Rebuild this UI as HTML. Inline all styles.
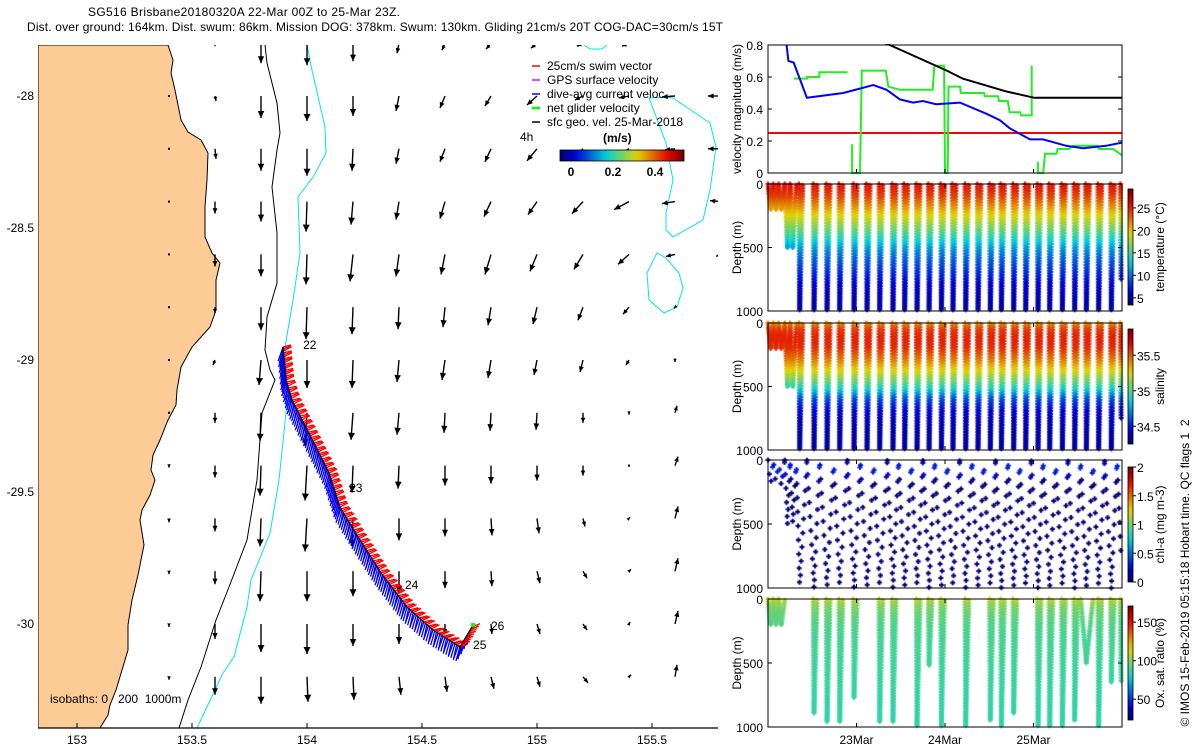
<!DOCTYPE html>
<html><head><meta charset="utf-8">
<style>
html,body{margin:0;padding:0;background:#fff;width:1200px;height:750px;overflow:hidden}
#wrap{position:relative;width:1200px;height:750px}
canvas,svg{position:absolute;left:0;top:0}
text{font-family:"Liberation Sans",sans-serif;fill:#000;white-space:pre}
</style></head>
<body>
<div id="wrap">
<svg id="base" width="1200" height="750"></svg>
<canvas id="scat" width="1200" height="750"></canvas>
<svg id="over" width="1200" height="750"></svg>
</div>
<script>
// ---------- data ----------
const gridLons=[153.4,153.6,153.8,154.0,154.2,154.4,154.6,154.8,155.0,155.2,155.4,155.6,155.8];
const gridLats=[-27.8,-28.0,-28.2,-28.4,-28.6,-28.8,-29.0,-29.2,-29.4,-29.6,-29.8,-30.0,-30.2];
// surface geostrophic velocity east (cm/s) per row
const geoU=[
[0,0,0,0,0,-4,-6,-10,-12,-12,-14,-4,0],
[0,2,0,0,0,-6,-10,-12,-20,-16,-20,-26,-26],
[0,2,0,0,-2,-6,-10,-12,-20,-20,-22,-20,-26],
[0,0,0,-2,-4,-6,-10,-14,-18,-22,-30,-26,-22],
[0,0,0,-2,-6,-6,-8,-12,-14,-18,-22,-18,-10],
[0,0,0,-2,-2,-2,-4,-6,-8,-10,-12,-2,0],
[0,-4,-4,0,-2,-4,-6,-6,-6,-6,-6,0,0],
[0,0,-2,-4,-4,-4,-2,-2,-2,0,0,4,0],
[0,0,-2,-4,-2,-2,0,0,0,0,0,6,0],
[0,0,-2,-4,-2,0,0,2,4,4,2,6,0],
[0,0,-2,0,0,0,0,2,6,8,4,6,0],
[0,0,0,0,0,0,0,2,6,8,2,6,0],
[0,0,0,2,2,4,4,6,6,10,4,4,0]];
// surface geostrophic velocity north (cm/s) per row
const geoV=[
[0,-6,-40,-44,-36,-20,-14,-12,-10,-6,-6,-2,0],
[0,-10,-44,-50,-40,-30,-24,-20,-18,-8,-4,-2,0],
[0,-20,-44,-54,-44,-30,-26,-26,-24,-20,-12,-2,0],
[0,-24,-40,-60,-46,-36,-34,-30,-26,-24,-16,-4,2],
[0,-24,-44,-60,-54,-44,-40,-40,-34,-30,-20,-4,-4],
[0,-12,-46,-64,-54,-44,-40,-36,-34,-26,-14,-2,0],
[0,-10,-50,-56,-56,-44,-40,-36,-30,-24,-10,-4,0],
[0,-20,-56,-66,-54,-44,-40,-36,-34,-20,-4,14,0],
[-4,-24,-60,-70,-54,-46,-40,-36,-30,-20,0,18,0],
[-8,-26,-56,-66,-56,-44,-36,-34,-30,-16,2,24,0],
[-6,-26,-60,-60,-50,-44,-34,-30,-24,-14,4,26,0],
[-6,-30,-56,-60,-44,-40,-20,-20,-20,-12,4,26,0],
[-6,-36,-54,-50,-46,-36,-30,-24,-20,-12,4,24,0]];
// glider track
const trackLon=[153.896,153.909,153.935,154.030,154.096,154.143,154.222,154.322,154.435,154.548,154.665,154.722];
const trackLat=[-28.951,-29.076,-29.152,-29.314,-29.428,-29.557,-29.670,-29.807,-29.936,-30.023,-30.087,-30.004];
const dayLabels=["22","23","24","25","26"];
const dayLabelLon=[153.983,154.183,154.426,154.722,154.80];
const dayLabelLat=[-28.943,-29.485,-29.852,-30.08,-30.008];
// velocity time series (days since 22-Mar 00Z)
const blueT=[0.21,0.23,0.29,0.44,0.85,1.19,1.34,1.49,1.64,1.75,1.90,2.17,2.47,2.62,2.73,2.96,3.11,3.37,3.56,3.82,4.0];
const blueV=[0.80,0.70,0.69,0.47,0.50,0.55,0.52,0.46,0.44,0.45,0.43,0.44,0.37,0.33,0.28,0.21,0.21,0.17,0.155,0.17,0.19];
const blackT=[1.0,1.375,2.02,2.2,2.69,3.01,4.0];
const blackV=[0.89,0.80,0.64,0.59,0.51,0.47,0.47];
const redT=[0,4];
const redV=[0.25,0.25];
const greenT=[0.29,0.44,0.44,0.58,0.58,0.90,null,0.95,0.95,1.04,1.06,1.06,1.33,1.36,1.49,1.86,1.88,1.99,2.0,2.03,2.04,2.17,2.18,2.44,2.45,2.6,2.61,2.71,2.73,2.85,2.86,2.98,2.98,null,3.05,3.05,3.11,3.13,3.26,3.27,3.4,3.45,3.72,3.74,3.9,4.0];
const greenV=[0.59,0.59,0.60,0.60,0.63,0.63,null,0.18,0,0,0.63,0.64,0.64,0.54,0.52,0.52,0.67,0.67,0,0,0.54,0.54,0.50,0.50,0.48,0.48,0.45,0.45,0.38,0.38,0.36,0.36,0.67,null,0.07,0,0,0.12,0.12,0.15,0.15,0.17,0.17,0.15,0.15,0.11];
// dives
const diveStartT=[0.00,0.06,0.12,0.19,0.25,0.32,0.44,0.584,0.742,0.896,1.043,1.194,1.348,1.476,1.62,1.751,1.883,2.026,2.166,2.305,2.437,2.572,2.712,2.844,2.975,3.107,3.25,3.39,3.533,3.672,3.804,3.944];
const diveBottomT=[0.03,0.09,0.15,0.22,0.28,0.358,0.52,0.667,0.81,0.972,1.119,1.262,1.412,1.544,1.684,1.82,1.959,2.09,2.234,2.373,2.512,2.637,2.776,2.912,3.051,3.183,3.326,3.465,3.597,3.736,3.879,3.99];
const diveDepth=[200,200,200,500,500,1000,1000,1000,1000,1000,1000,1000,1000,1000,1000,1000,1000,1000,1000,1000,1000,1000,1000,1000,1000,1000,1000,1000,1000,1000,1000,760];
const oxyDepth=[200,200,200,0,0,0,900,960,960,780,0,960,960,0,1000,520,1000,0,1000,0,950,1000,900,0,1000,1000,1000,950,500,1000,650,650];
const profDepth=[0,50,100,150,200,250,300,400,500,600,700,800,900,1000];
const tempProf=[25.5,25,24,22.5,21,19.5,18,15,11.5,9.5,8,6.5,5.5,5];
const salProf=[35.4,35.55,35.6,35.6,35.58,35.5,35.42,35.2,34.95,34.6,34.45,34.38,34.36,34.36];
const chlProf=[0.05,0.35,0.3,0.08,0.02,0.02,0.02,0.02,0.02,0.02,0.02,0.02,0.02,0.02];
const oxyProf=[110,100,96,94,92,91,90,90,89,88,88,87,87,87];
const dateTicks=[1,2,3];
const dateLabels=["23Mar","24Mar","25Mar"];
const velTicks=[0,0.2,0.4,0.6,0.8];
const depthTicks=[0,500,1000];
const lonTicks=[153,153.5,154,154.5,155,155.5];
const latTicks=[-28,-28.5,-29,-29.5,-30];

// ---------- helpers ----------
const NS="http://www.w3.org/2000/svg";
const base=document.getElementById('base'), over=document.getElementById('over');
function el(parent,tag,attrs,txt){const e=document.createElementNS(NS,tag);for(const k in attrs)e.setAttribute(k,attrs[k]);if(txt!==undefined)e.textContent=txt;parent.appendChild(e);return e;}
const lx=lon=>77+(lon-153)*230;
const ly=lat=>96+(-28-lat)*264;
const MX0=38,MX1=718,MY0=45,MY1=728;
const dayX=d=>768+d*88.5;
const VY0=45,VY1=173;
const vy=v=>VY1-v/0.8*(VY1-VY0);
const panels=[{t:184,b:311,lo:3.4,hi:29.2,prof:tempProf,name:'temperature'},{t:323,b:450,lo:34.25,hi:35.87,prof:salProf,name:'salinity'},{t:460,b:588,lo:0,hi:2,prof:chlProf,name:'chl-a'},{t:599,b:727,lo:23,hi:171,prof:oxyProf,name:'oxygen'}];
function clamp(x){return x<0?0:x>1?1:x;}
function jet(f){f=clamp(f);const r=clamp(1.5-Math.abs(4*f-3)),g=clamp(1.5-Math.abs(4*f-2)),b=clamp(1.5-Math.abs(4*f-1));return `rgb(${Math.round(r*225)},${Math.round(g*210)},${Math.round(b*215)})`;}
function interp(d,xs,ys){for(let i=1;i<xs.length;i++){if(d<=xs[i]){const f=(d-xs[i-1])/(xs[i]-xs[i-1]);return ys[i-1]+f*(ys[i]-ys[i-1]);}}return ys[ys.length-1];}

// ---------- title ----------
el(base,'text',{x:88,y:16,'font-size':12,textLength:312,},'SG516 Brisbane20180320A 22-Mar 00Z to 25-Mar 23Z.');
el(base,'text',{x:27,y:31,'font-size':12,textLength:696,},'Dist. over ground: 164km. Dist. swum: 86km. Mission DOG: 378km. Swum: 130km. Gliding 21cm/s 20T COG-DAC=30cm/s 15T');

// ---------- map ----------
const defs=el(base,'defs',{});
const cp=el(defs,'clipPath',{id:'mapclip'});el(cp,'rect',{x:MX0,y:MY0,width:MX1-MX0,height:MY1-MY0});
const cp2=el(defs,'clipPath',{id:'velclip'});el(cp2,'rect',{x:768,y:VY0-1,width:354,height:VY1-VY0+2});
const map=el(base,'g',{'clip-path':'url(#mapclip)',});
const coast="M38,45 L168,45 L173,60 L171,73 L175,90 L181,120 L188,132 L201,140 L208,153 L207,180 L205,207 L205,237 L212,253 L220,263 L216,280 L216,310 L210,327 L192,347 L181,367 L177,390 L176,405 L168,420 L160,440 L153,455 L151,470 L155,480 L150,495 L142,510 L140,520 L144,545 L138,575 L132,600 L128,625 L128,650 L122,670 L116,690 L110,705 L108,715 L100,728 L38,728 Z";
el(map,'path',{d:coast,fill:'#fccb96',stroke:'#000','stroke-width':1,});
el(map,'path',{d:"M265,45 L267,63 L277,103 L280,133 L277,150 L272,187 L277,233 L277,283 L267,317 L265,350 L270,370 L275,380 L262,413 L257,480 L247,540 L229,587 L216,620 L201,667 L188,700 L179,728",fill:'none',stroke:'#000','stroke-width':1,});
el(map,'path',{d:"M307,45 L312,70 L325,127 L326,153 L313,177 L298,197 L300,253 L293,300 L285,347 L287,380 L286,413 L279,480 L270,533 L251,580 L247,607 L234,657 L223,673 L197,728",fill:'none',stroke:'#00e5ee','stroke-width':1,});
el(map,'path',{d:"M649,98 L666,97 L673,98 L710,123 L716,147 L710,190 L703,220 L673,237 L666,230 L666,213 L673,180 L666,143 Z",fill:'none',stroke:'#00e5ee','stroke-width':1,});
el(map,'path',{d:"M657,253 L647,273 L649,300 L664,313 L677,307 L683,288 L679,273 L666,258 Z",fill:'none',stroke:'#00e5ee','stroke-width':1,});
el(map,'path',{d:"M584,45 L590,49 L602,49 L607,45",fill:'none',stroke:'#00e5ee','stroke-width':1,});
// geostrophic arrows
const ARW=0.5;
for(let r=0;r<gridLats.length;r++){for(let c=0;c<gridLons.length;c++){
  const u=geoU[r][c],v=geoV[r][c];
  const x0=lx(gridLons[c]),y0=ly(gridLats[r]);
  const dx=u*ARW,dy=-v*ARW,L=Math.hypot(dx,dy);
  const g=el(map,'g',{});
  
  
  if(L<0.5){el(g,'rect',{x:x0-1,y:y0-1,width:2,height:2,fill:'#000'});continue;}
  el(g,'line',{x1:x0,y1:y0,x2:x0+dx,y2:y0+dy,stroke:'#000','stroke-width':1.4});
  const ux=dx/L,uy=dy/L,h=Math.min(7,3+L*0.2),w=Math.min(3.5,1.5+L*0.08);
  const tx=x0+dx,ty=y0+dy,bx=tx-ux*h,by=ty-uy*h;
  el(g,'polygon',{points:`${tx},${ty} ${bx-uy*w},${by+ux*w} ${bx+uy*w},${by-ux*w}`,fill:'#000'});
}}
// track
const tpts=trackLon.map((lo,i)=>[lx(lo),ly(trackLat[i])]);
const samp=[];
for(let i=1;i<tpts.length;i++){const [a,b]=[tpts[i-1],tpts[i]];const L=Math.hypot(b[0]-a[0],b[1]-a[1]);const n=Math.max(1,Math.round(L/2));for(let k=0;k<n;k++){samp.push([a[0]+(b[0]-a[0])*k/n,a[1]+(b[1]-a[1])*k/n]);}}
const tg=el(map,'g',{});
samp.forEach((p,i)=>{
  const bl=el(tg,'line',{x1:p[0],y1:p[1],x2:p[0]-5+(i%3),y2:p[1]+14,stroke:'#0000ff','stroke-width':1.3});
  
  
});
samp.forEach((p,i)=>{
  const rl=el(tg,'line',{x1:p[0],y1:p[1],x2:p[0]+8,y2:p[1]-(i%3)-2,stroke:'#ff0000','stroke-width':1.3});
  
  
});
el(map,'polyline',{points:tpts.map(p=>p.join(',')).join(' '),fill:'none',stroke:'#000','stroke-width':1.2,});
const last=tpts[tpts.length-1];
el(map,'rect',{x:last[0]-2,y:last[1]-2,width:4,height:4,fill:'#00ff00',});
dayLabels.forEach((s,i)=>{el(map,'text',{x:lx(dayLabelLon[i]),y:ly(dayLabelLat[i])+4,'font-size':12,},s);});
el(map,'text',{x:50,y:703,'font-size':12,},'isobaths: 0   200  1000m');
// legend
const leg=[['#ff0000','25cm/s swim vector'],['#ff00ff','GPS surface velocity'],['#0000ff','dive-avg current veloc.'],['#00ff00','net glider velocity'],['#000000','sfc geo. vel. 25-Mar-2018']];
const lg=el(base,'g',{});
leg.forEach((e,i)=>{const y=66+i*14;el(lg,'line',{x1:532,y1:y,x2:540,y2:y,stroke:e[0],'stroke-width':i==3?2.5:1.5});el(lg,'text',{x:547,y:y+4,'font-size':12,},e[1]);});
el(base,'text',{x:520,y:141,'font-size':12,},'4h');
el(base,'text',{x:603,y:142,'font-size':12,'font-weight':'bold',},'(m/s)');
// map colorbar
const gd=el(defs,'linearGradient',{id:'jeth',x1:0,y1:0,x2:1,y2:0});
for(let i=0;i<=20;i++)el(gd,'stop',{offset:i/20,'stop-color':jet(i/20)});
const gdv=el(defs,'linearGradient',{id:'jetv',x1:0,y1:1,x2:0,y2:0});
for(let i=0;i<=20;i++)el(gdv,'stop',{offset:i/20,'stop-color':jet(i/20)});
el(base,'rect',{x:560,y:150,width:124,height:11,fill:'url(#jeth)',stroke:'#000','stroke-width':0.8,});
[['0',571],['0.2',613],['0.4',655]].forEach(t=>el(base,'text',{x:t[1],y:176,'font-size':12,'font-weight':'bold','text-anchor':'middle',},t[0]));
// map axes
el(over,'line',{x1:MX0,y1:MY1,x2:MX1,y2:MY1,stroke:'#000','stroke-width':1.2,});
lonTicks.forEach(t=>{const x=lx(t);el(over,'line',{x1:x,y1:MY1,x2:x,y2:MY1-5,stroke:'#000'});el(over,'text',{x:x,y:744,'font-size':12,'text-anchor':'middle',},String(t));});
latTicks.forEach(t=>{el(over,'text',{x:34,y:ly(t)+4,'font-size':12,'text-anchor':'end',},String(t));});

// ---------- velocity panel ----------
const vp=el(over,'g',{});
const vg=el(vp,'g',{'clip-path':'url(#velclip)'});
function series(T,V,color,w,name){let d='',pen=false;T.forEach((t,i)=>{if(t===null){pen=false;return;}d+=(pen?'L':'M')+dayX(t).toFixed(1)+','+vy(V[i]).toFixed(1)+' ';pen=true;});el(vg,'path',{d:d,fill:'none',stroke:color,'stroke-width':w,});}
series(redT,redV,'#ff0000',2,'swim-speed-line');
series(greenT,greenV,'#22ee22',2,'net-glider-velocity-line');
series(blackT,blackV,'#000000',2,'surface-geostrophic-line');
series(blueT,blueV,'#0000ff',2,'dive-avg-current-line');
el(vp,'rect',{x:768,y:VY0,width:354,height:VY1-VY0,fill:'none',stroke:'#000','stroke-width':1});
velTicks.forEach(t=>{const y=vy(t);el(vp,'line',{x1:768,y1:y,x2:772,y2:y,stroke:'#000'});el(vp,'line',{x1:1118,y1:y,x2:1122,y2:y,stroke:'#000'});el(vp,'text',{x:763,y:y+5,'font-size':12,'text-anchor':'end',},t===0?'0':t.toFixed(1));});
el(vp,'text',{x:0,y:0,'font-size':12,'text-anchor':'middle',transform:`translate(741,109) rotate(-90)`,},'velocity magnitude (m/s)');

// ---------- profile panels ----------
const ctx=document.getElementById('scat').getContext('2d');
function mark(x,y,c){ctx.fillStyle=c;ctx.fillRect(x-2.5,y-1,5,2);ctx.fillRect(x-1,y-2.5,2,5);}
function depthY(p,d){return p.t+d/1000*(p.b-p.t);}
function drawLeg(p,t0,t1,D,step,off,valFn){
  for(let d=off;d<=D;d+=step){const t=t0+(t1-t0)*d/D;const v=valFn(d);mark(dayX(t),depthY(p,d),jet((v-p.lo)/(p.hi-p.lo)));}
}
panels.forEach((p,pi)=>{
  const valFn=d=>interp(d,profDepth,p.prof);
  for(let k=0;k<diveStartT.length;k++){
    let D=diveDepth[k];
    if(pi===3)D=oxyDepth[k];
    if(!D)continue;
    const tb=diveBottomT[k];
    const t1=(k+1<diveStartT.length)?diveStartT[k+1]:null;
    if(pi===2){
      const off=(k*37)%110;
      drawLeg(p,diveStartT[k],tb,D,110,off,valFn);
      if(t1!==null)drawLeg(p,t1,tb,D,110,(off+55)%110,valFn);
    } else if(D<=500){
      drawLeg(p,diveStartT[k],tb,D,20,0,valFn);
      if(t1!==null)drawLeg(p,t1,tb,D,20,10,valFn);
    } else {
      // narrow slanted column for each deep dive
      drawLeg(p,tb-0.008,tb,D,22,0,valFn);
      if(t1!==null)drawLeg(p,tb+0.035,tb,D,22,11,valFn);
    }
  }
});
panels.forEach((p,pi)=>{
  const g=el(over,'g',{});
  el(g,'rect',{x:768,y:p.t,width:354,height:p.b-p.t,fill:'none',stroke:'#000','stroke-width':1});
  depthTicks.forEach(t=>{const y=depthY(p,t);el(g,'line',{x1:768,y1:y,x2:772,y2:y,stroke:'#000'});el(g,'line',{x1:1118,y1:y,x2:1122,y2:y,stroke:'#000'});el(g,'text',{x:763,y:y+5,'font-size':12,'text-anchor':'end',},String(t));});
  dateTicks.forEach(t=>{const x=dayX(t);el(g,'line',{x1:x,y1:p.b,x2:x,y2:p.b-4,stroke:'#000'});el(g,'line',{x1:x,y1:p.t,x2:x,y2:p.t+4,stroke:'#000'});});
  el(g,'text',{x:0,y:0,'font-size':12,'text-anchor':'middle',transform:`translate(741,${(p.t+p.b)/2}) rotate(-90)`,},'Depth (m)');
});
dateTicks.forEach((t,i)=>{el(over,'text',{x:dayX(t),y:744,'font-size':12,'text-anchor':'middle',},dateLabels[i]);});
dateTicks.forEach(t=>{const x=dayX(t);el(over,'line',{x1:x,y1:VY1,x2:x,y2:VY1-4,stroke:'#000'});});
// colorbars
const cbars=[
 {t:189,b:305,lo:3.4,hi:29.2,ticks:[5,10,15,20,25],title:'temperature (°C)',name:'temperature-colorbar'},
 {t:329,b:444,lo:34.25,hi:35.87,ticks:[34.5,35,35.5],title:'salinity',name:'salinity-colorbar'},
 {t:467,b:582,lo:0,hi:2,ticks:[0,0.5,1,1.5,2],title:'chl-a (mg m-3)',name:'chl-colorbar'},
 {t:606,b:720,lo:23,hi:171,ticks:[50,100,150],title:'Ox. sat. ratio (%)',name:'oxygen-colorbar'}];
cbars.forEach(c=>{
  const g=el(over,'g',{});
  el(g,'rect',{x:1128,y:c.t,width:5,height:c.b-c.t,fill:'url(#jetv)',stroke:'#000','stroke-width':0.8});
  c.ticks.forEach(t=>{const y=c.b-(t-c.lo)/(c.hi-c.lo)*(c.b-c.t);el(g,'line',{x1:1133,y1:y,x2:1136,y2:y,stroke:'#000'});el(g,'text',{x:1137,y:y+5,'font-size':12,},String(t));});
  el(g,'text',{x:0,y:0,'font-size':12,'text-anchor':'middle',transform:`translate(1164,${(c.t+c.b)/2}) rotate(-90)`,},c.title);
});
el(over,'text',{x:0,y:0,'font-size':12,'text-anchor':'middle',transform:'translate(1189,573) rotate(-90)',},'© IMOS 15-Feb-2019 05:15:18 Hobart time. QC flags 1  2');
</script>
</body></html>
